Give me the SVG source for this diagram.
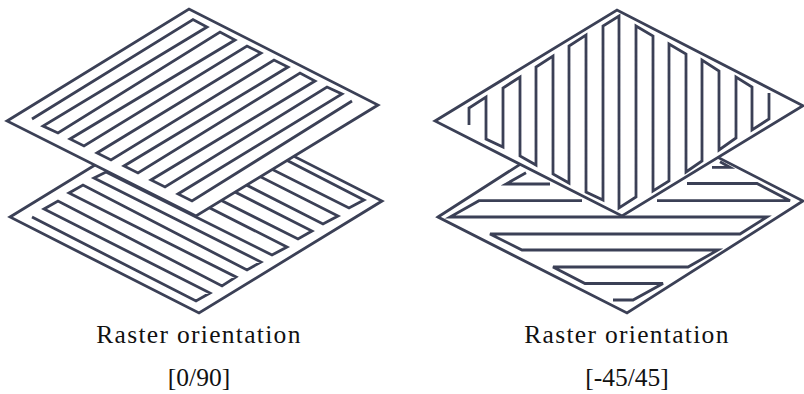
<svg xmlns="http://www.w3.org/2000/svg" width="804" height="394" viewBox="0 0 804 394">
<style>
.o{fill:#fff;stroke:#3b4056;stroke-width:2.8;stroke-linejoin:miter}
.l{fill:none;stroke:#3b4056;stroke-width:2.8;stroke-linejoin:miter}
.t{font-family:"Liberation Serif","Times New Roman",serif;font-size:25.5px;fill:#111;text-anchor:middle}
.w{letter-spacing:1.3px}
</style>
<rect width="804" height="394" fill="#fff"/>
<g id="raster-0-90-lower">
<polygon class="o" points="10,217 193,105 382,201 199,313"/>
<path class="l" d="M32,217L196,301L210,293L44,209L58,201L222,286L236,277L69,193L83,185L247,270L261,262L94,178L106,172L272,255L287,247L121,163L133,156L298,239L312,231L146,147L158,140L323,224L338,216L172,132L184,125L349,208L364,200L195,113"/>
</g>
<g id="raster-0-90-upper">
<polygon class="o" points="7,121 189,9 378,105 196,216"/>
<path class="l" d="M32,119L193,19.5L207,27L43,126L58,133L220,32L235,40L70,139L84,146L247,46L261,53L97,153L111,160L274,60L288,67L124,166L138,173L300,73L315,81L151,180L165,187L327,87L342,94L178,194L192,201L352,101"/>
</g>
<g id="raster-45-lower">
<polygon class="o" points="438,217 614,104 803,201 627,313"/>
<path class="l" d="M526,172.7L506,184H550M582,200.7H479L450,217H767L740,234H490L522,250H718L688,267H553L585,283.5H663L633,300H613M657,200.7H790L757,183.5H687M712,167.3H730L720,161.7"/>
</g>
<g id="raster-45-upper">
<polygon class="o" points="435,121 617,10 803,105.7 622,216"/>
<path class="l" d="M469,125V108L486,97V139L503,147V88L520,77V156L536,165V67L553,56V174L569,183V46L586,35V192L603,200V26L619,16V208L636,197V26L653,36V191L669,181V44L686,54V172L702,161V60L719,71V150L736,138V77L752,87V130L769,119V93"/>
</g>
<text class="t w" x="199" y="343">Raster orientation</text>
<text class="t" x="199" y="386">[0/90]</text>
<text class="t w" x="627" y="343">Raster orientation</text>
<text class="t" x="627" y="386">[-45/45]</text>
</svg>
